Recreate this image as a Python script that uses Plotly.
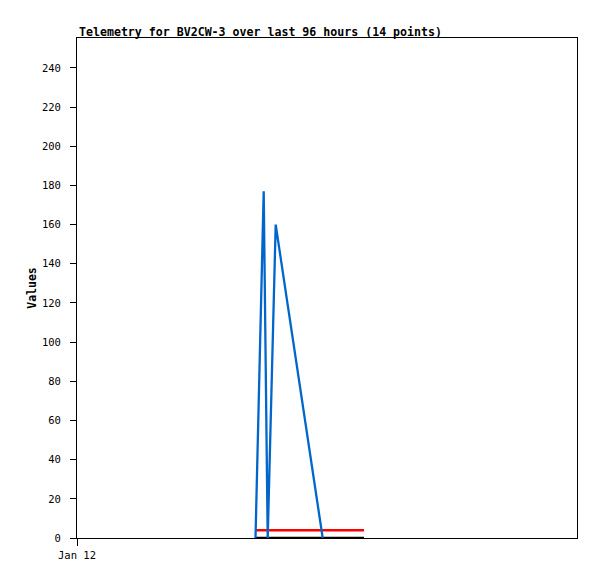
import plotly.graph_objects as go

blue_times = ["2024-01-12 08:34:05", "2024-01-12 08:39:50", "2024-01-12 08:45:36",
              "2024-01-12 08:51:22", "2024-01-12 08:57:42", "2024-01-12 09:03:27",
              "2024-01-12 09:09:13", "2024-01-12 09:15:50", "2024-01-12 09:23:02",
              "2024-01-12 09:32:15", "2024-01-12 10:07:41", "2024-01-12 10:42:14",
              "2024-01-12 11:13:55", "2024-01-12 11:47:37"]
blue_values = [0, 43, 86, 130, 177, 88, 0, 46, 100, 160, 118, 77, 40, 0]

red_times = ["2024-01-12 08:34:05", "2024-01-12 13:46:34"]
red_values = [4, 4]

black_times = ["2024-01-12 08:34:05", "2024-01-12 13:46:34"]
black_values = [0, 0]

y_ticks = [0, 20, 40, 60, 80, 100, 120, 140, 160, 180, 200, 220, 240]
x_tick_vals = ["2024-01-12 00:00:00"]
x_tick_text = ["Jan 12"]

title_text = "Telemetry for BV2CW-3 over last 96 hours (14 points)"

mono = "DejaVu Sans Mono"

fig = go.Figure()
fig.add_trace(go.Scatter(x=black_times, y=black_values, mode="lines",
                         line=dict(color="#000000", width=2.5), showlegend=False))
fig.add_trace(go.Scatter(x=red_times, y=red_values, mode="lines",
                         line=dict(color="#ff0000", width=2.5), showlegend=False))
fig.add_trace(go.Scatter(x=blue_times, y=blue_values, mode="lines",
                         line=dict(color="#0066cc", width=2.3), showlegend=False))

fig.update_layout(
    width=597, height=579,
    margin=dict(l=69, r=28, t=30, b=49),
    paper_bgcolor="white", plot_bgcolor="white",
    showlegend=False,
    xaxis=dict(
        type="date",
        range=["2024-01-12 00:00:00", "2024-01-13 00:00:00"],
        tickvals=x_tick_vals, ticktext=x_tick_text,
        showgrid=False, zeroline=False,
        showline=True, linecolor="#000000", linewidth=1, mirror=True,
        ticks="outside", ticklen=7, tickcolor="#000000",
        tickfont=dict(family=mono, size=10.5, color="#000000"),
    ),
    yaxis=dict(
        range=[0, 255.3],
        tickvals=y_ticks,
        showgrid=False, zeroline=False,
        showline=True, linecolor="#000000", linewidth=1, mirror=True,
        ticks="outside", ticklen=6, tickcolor="#000000",
        ticklabelstandoff=7,
        tickfont=dict(family=mono, size=10.5, color="#000000"),
        title=dict(text="<b>Values</b>", font=dict(family=mono, size=11.5, color="#000000"),
                   standoff=2),
    ),
    annotations=[dict(
        text="<b>" + title_text + "</b>", xref="paper", yref="paper",
        x=0, y=1, xanchor="left", yanchor="bottom", yshift=-3, showarrow=False,
        font=dict(family=mono, size=11.6, color="#000000"),
    )],
)

fig.write_html("out.html")
